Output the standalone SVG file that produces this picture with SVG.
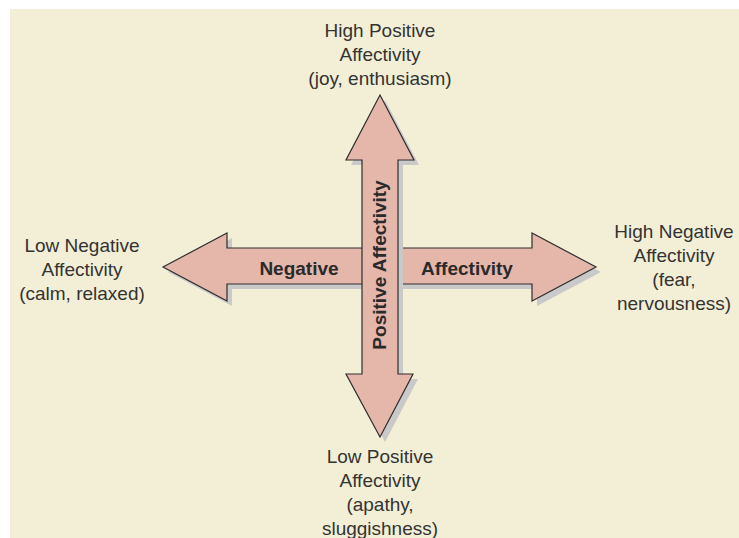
<svg xmlns="http://www.w3.org/2000/svg" width="739" height="538" viewBox="0 0 739 538">
<style>
.lbl{font-family:"Liberation Sans",Arial,sans-serif;font-size:19px;fill:#333;text-anchor:middle}
.bl{font-family:"Liberation Sans",Arial,sans-serif;font-size:19px;font-weight:bold;fill:#2a2a2a;text-anchor:middle}
.arr{fill:#E5B6AA;stroke:#2e2e2e;stroke-width:1.2;stroke-linejoin:miter}
.sh{fill:#C9C9C9}
</style>
<rect x="0" y="0" width="739" height="538" fill="#ffffff"/>
<rect x="10" y="9" width="729" height="529" fill="#F3EFD6"/>
<g id="connectors">
<g id="horizontal-arrow">
<polygon class="sh" transform="translate(5,5)" points="163,267 227,233 227,248 532,248 532,233 596,267 532,301 532,284 227,284 227,301"/>
<polygon class="arr" points="163,267 227,233 227,248 532,248 532,233 596,267 532,301 532,284 227,284 227,301"/>
</g>
<g id="vertical-arrow">
<polygon class="sh" transform="translate(5,5)" points="380,95 414,160 398,160 398,374 413,374 380,437 346,374 362,374 362,160 346,160"/>
<polygon class="arr" points="380,95 414,160 398,160 398,374 413,374 380,437 346,374 362,374 362,160 346,160"/>
</g>
<text class="bl" x="299" y="275">Negative</text>
<text class="bl" x="467" y="275">Affectivity</text>
<text class="bl" transform="translate(386,265) rotate(-90)">Positive Affectivity</text>
</g>
<g id="node-top">
<text class="lbl" x="380" y="37">High Positive</text>
<text class="lbl" x="380" y="61">Affectivity</text>
<text class="lbl" x="380" y="85">(joy, enthusiasm)</text>
</g>
<g id="node-left">
<text class="lbl" x="82" y="252">Low Negative</text>
<text class="lbl" x="82" y="276">Affectivity</text>
<text class="lbl" x="82" y="300">(calm, relaxed)</text>
</g>
<g id="node-right">
<text class="lbl" x="674" y="238">High Negative</text>
<text class="lbl" x="674" y="262">Affectivity</text>
<text class="lbl" x="674" y="286">(fear,</text>
<text class="lbl" x="674" y="310">nervousness)</text>
</g>
<g id="node-bottom">
<text class="lbl" x="380" y="463">Low Positive</text>
<text class="lbl" x="380" y="487">Affectivity</text>
<text class="lbl" x="380" y="511">(apathy,</text>
<text class="lbl" x="380" y="535">sluggishness)</text>
</g>
</svg>
